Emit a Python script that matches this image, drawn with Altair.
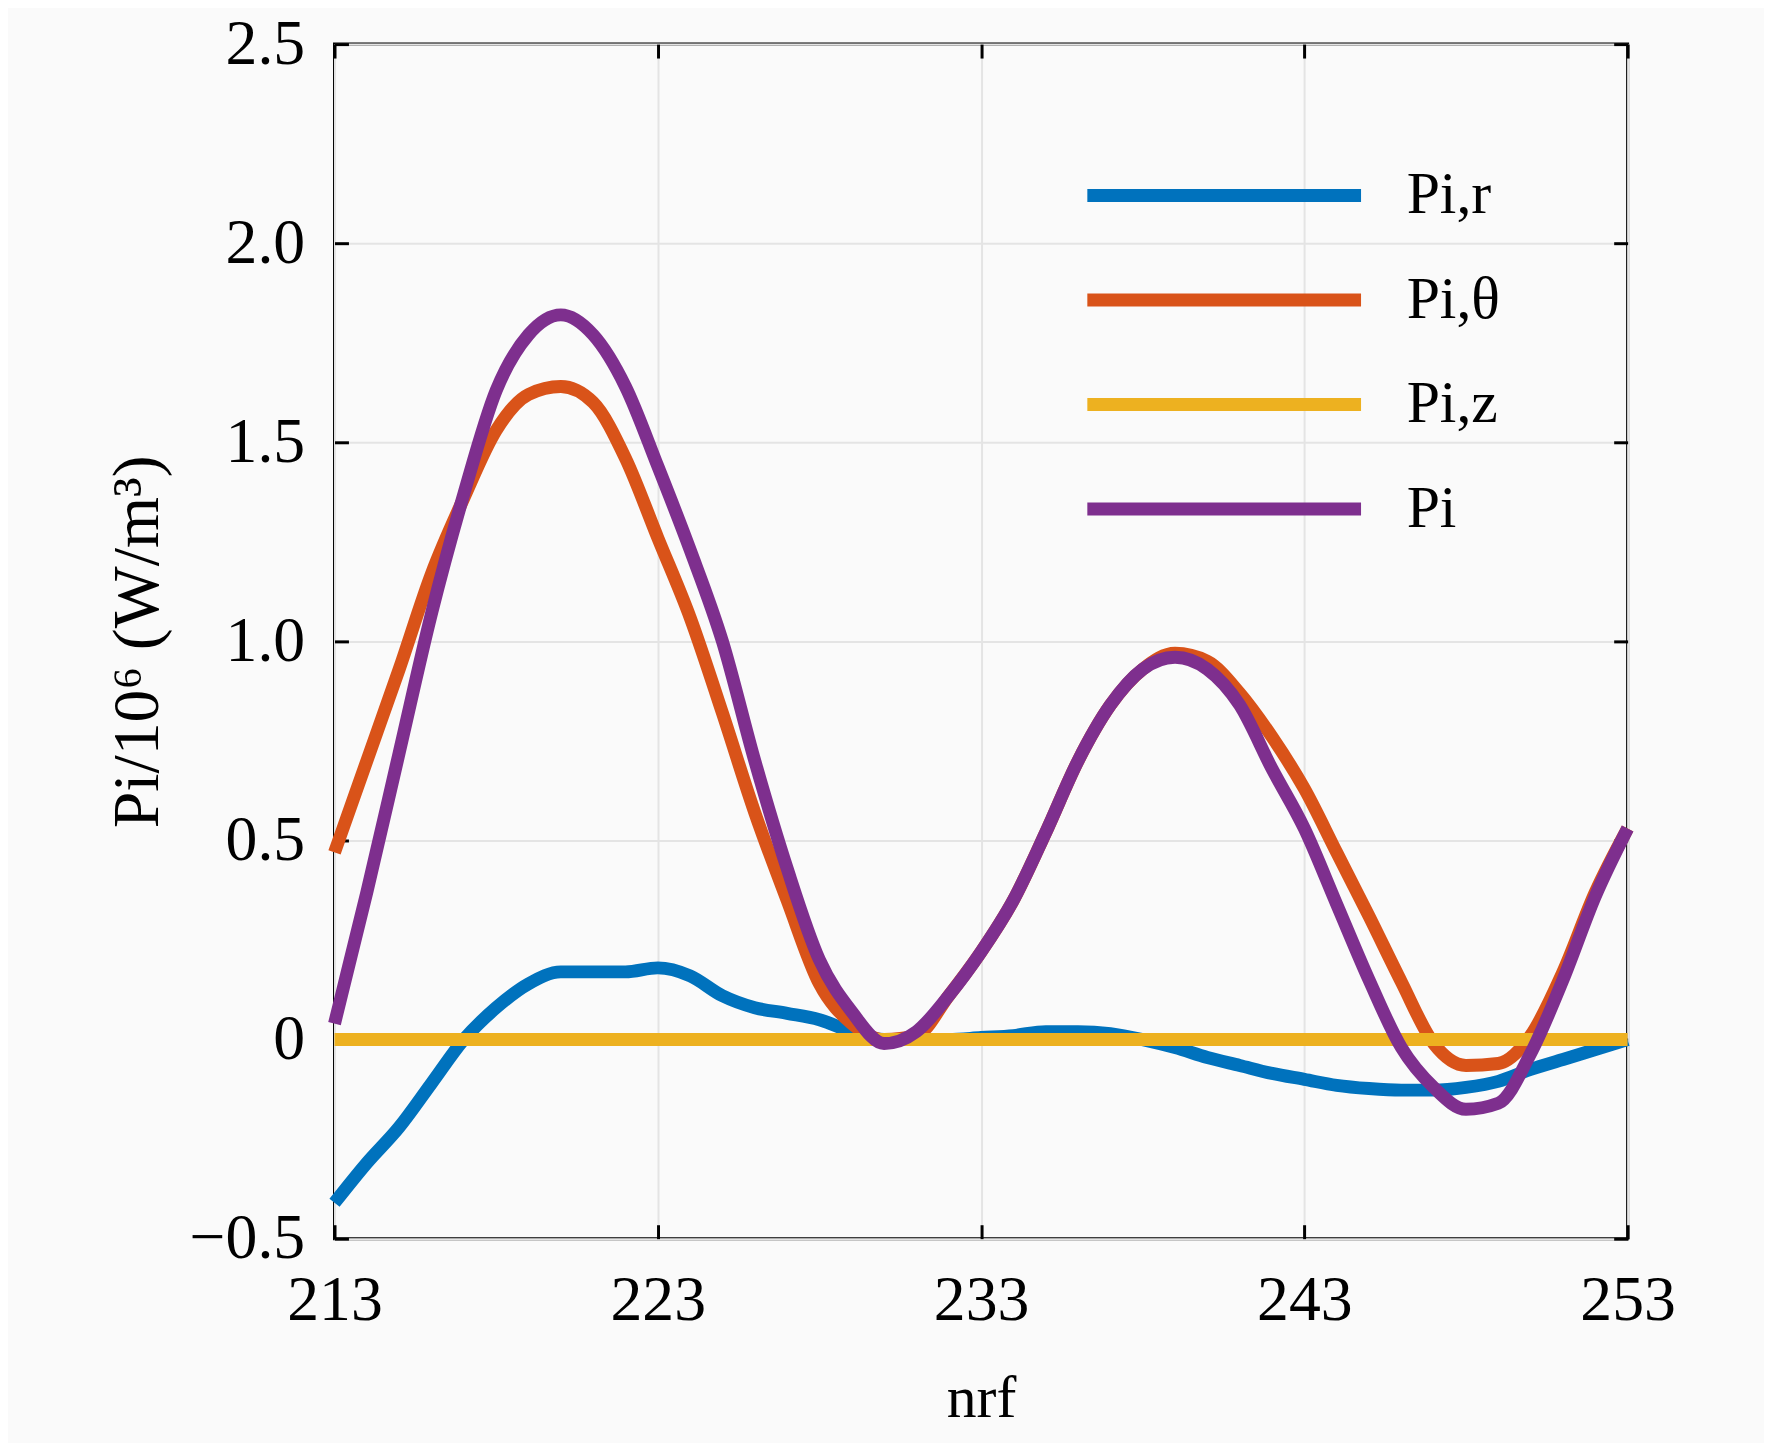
import altair as alt
import pandas as pd

n_rf = list(range(213, 254))

p_ir = [-0.41, -0.31, -0.22, -0.11, 0.0, 0.08, 0.14, 0.17, 0.17, 0.17,
        0.18, 0.16, 0.11, 0.08, 0.066, 0.05, 0.02, 0.0, 0.0, 0.0,
        0.005, 0.01, 0.02, 0.02, 0.015, 0.0, -0.02, -0.045, -0.065, -0.085,
        -0.10, -0.115, -0.123, -0.127, -0.127, -0.12, -0.105, -0.075, -0.05, -0.025,
        0.0]

p_itheta = [0.47, 0.70, 0.93, 1.17, 1.36, 1.53, 1.62, 1.64, 1.60, 1.46,
            1.26, 1.06, 0.82, 0.57, 0.35, 0.14, 0.04, 0.0, 0.01, 0.11,
            0.22, 0.35, 0.52, 0.70, 0.84, 0.93, 0.97, 0.95, 0.87, 0.76,
            0.63, 0.47, 0.31, 0.145, -0.01, -0.065, -0.06, 0.01, 0.17, 0.37,
            0.53]

p_iz = [0.0, 0.0, 0.0, 0.0, 0.0, 0.0, 0.0, 0.0, 0.0, 0.0,
        0.0, 0.0, 0.0, 0.0, 0.0, 0.0, 0.0, 0.0, 0.0, 0.0,
        0.0, 0.0, 0.0, 0.0, 0.0, 0.0, 0.0, 0.0, 0.0, 0.0,
        0.0, 0.0, 0.0, 0.0, 0.0, 0.0, 0.0, 0.0, 0.0, 0.0,
        0.0]

p_i = [0.04, 0.37, 0.72, 1.07, 1.37, 1.63, 1.77, 1.82, 1.77, 1.64,
       1.44, 1.23, 1.00, 0.70, 0.43, 0.20, 0.07, -0.01, 0.02, 0.11,
       0.22, 0.35, 0.52, 0.70, 0.84, 0.93, 0.96, 0.93, 0.84, 0.68,
       0.53, 0.34, 0.15, -0.02, -0.12, -0.175, -0.16, -0.035, 0.15, 0.36,
       0.53]

series_names = ["Pi,r", "Pi,θ", "Pi,z", "Pi"]
series_colors = ["#0072BD", "#D95319", "#EDB120", "#7E2F8E"]
x_ticks = [213, 223, 233, 243, 253]
y_ticks = [-0.5, 0.0, 0.5, 1.0, 1.5, 2.0, 2.5]

rows = []
for name, vals in zip(series_names, [p_ir, p_itheta, p_iz, p_i]):
    for k, v in zip(n_rf, vals):
        rows.append({"n": k, "v": v, "series": name, "order": series_names.index(name)})
df = pd.DataFrame(rows)

W, H = 1299, 1200
FONT = "Liberation Serif"

xscale = alt.Scale(domain=[213, 253], nice=False, zero=False)
yscale = alt.Scale(domain=[-0.5, 2.5], nice=False, zero=False)

ylabel_expr = ("datum.value == 0 ? '0' : (datum.value < 0 ? '\u2212' + format(-datum.value, '.1f') "
               ": format(datum.value, '.1f'))")

lines = alt.Chart(df).mark_line(strokeWidth=13, strokeCap="butt", strokeJoin="round",
                                interpolate="monotone").encode(
    x=alt.X("n:Q", scale=xscale,
            axis=alt.Axis(values=x_ticks, title="nrf", labelFontSize=64, titleFontSize=60,
                          labelFont=FONT, titleFont=FONT, titleFontWeight="normal",
                          labelPadding=30, titlePadding=38, ticks=False, domain=False,
                          grid=True, gridColor="#e4e4e4", gridWidth=2, labelFlush=False,
                          labelColor="black", titleColor="black")),
    y=alt.Y("v:Q", scale=yscale,
            axis=alt.Axis(values=y_ticks, title="Pi/10⁶ (W/m³)", labelExpr=ylabel_expr,
                          labelFontSize=64, titleFontSize=66, labelFont=FONT, titleFont=FONT,
                          titleFontWeight="normal", labelPadding=30, titlePadding=18,
                          ticks=False, domain=False, grid=True, gridColor="#e4e4e4",
                          gridWidth=2, labelFlush=False, labelColor="black", titleColor="black")),
    color=alt.Color("series:N",
                    scale=alt.Scale(domain=series_names, range=series_colors),
                    legend=alt.Legend(title=None, orient="none", legendX=740, legendY=122,
                                      symbolType="M-1,0H19", symbolSize=756,
                                      symbolStrokeWidth=13, labelFont=FONT, labelFontSize=60,
                                      labelOffset=277, rowPadding=45, padding=0,
                                      labelColor="black")),
    order=alt.Order("order:Q"),
)

tick_style = dict(labels=False, grid=False, domain=False, ticks=True, tickSize=14,
                  tickWidth=3, tickColor="black", title=None)

inner1 = alt.Chart(df).mark_point(opacity=0, size=1).encode(
    x=alt.X("n:Q", scale=xscale, axis=alt.Axis(values=x_ticks, orient="top", offset=-H, **tick_style)),
    y=alt.Y("v:Q", scale=yscale, axis=alt.Axis(values=y_ticks, orient="right", offset=-W, **tick_style)),
)
inner2 = alt.Chart(df).mark_point(opacity=0, size=1).encode(
    x=alt.X("n:Q", scale=xscale, axis=alt.Axis(values=x_ticks, orient="bottom", offset=-H, **tick_style)),
    y=alt.Y("v:Q", scale=yscale, axis=alt.Axis(values=y_ticks, orient="left", offset=-W, **tick_style)),
)

chart = alt.layer(lines, inner1, inner2).resolve_axis(
    x="independent", y="independent"
).properties(
    width=W, height=H,
    autosize=alt.AutoSizeParams(type="none"),
    padding={"left": 328, "top": 33, "right": 137, "bottom": 202},
    background="#fafafa",
).configure_view(stroke="black", strokeWidth=3)

chart.save("out.html", embed_options={"renderer": "svg", "actions": False})
